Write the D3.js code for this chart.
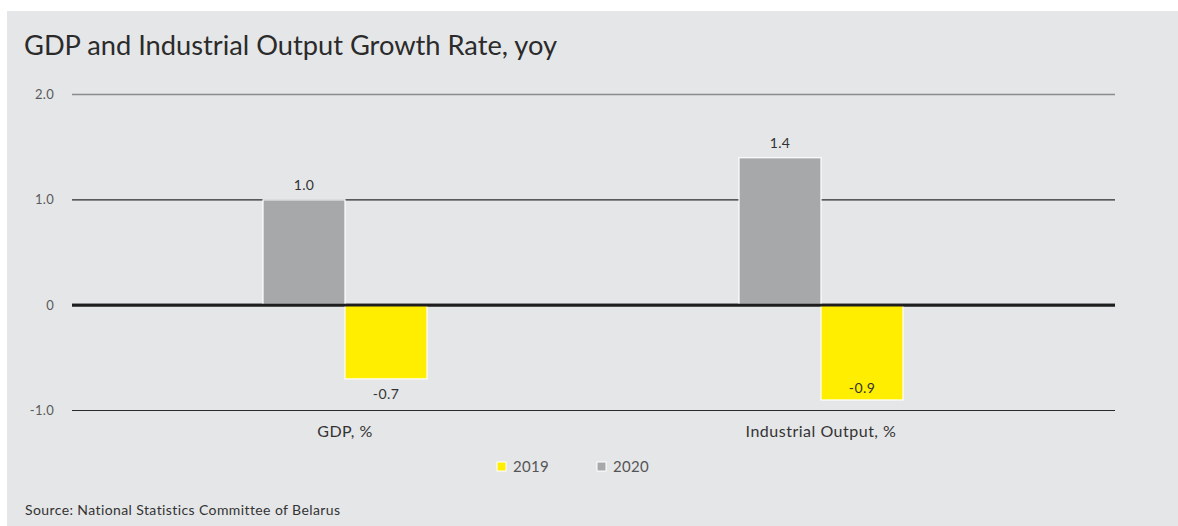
<!DOCTYPE html>
<html>
<head>
<meta charset="utf-8">
<script src="https://cdn.jsdelivr.net/npm/d3@7"></script>
<style>
  html, body { margin: 0; padding: 0; background: #ffffff; }
  svg { display: block; }
  text { font-family: "Lato", "Noto Sans", sans-serif; }
</style>
</head>
<body>
<svg id="chart" width="1178" height="526"></svg>
<script>
// Chart data
const categories = ["GDP, %", "Industrial Output, %"];
const seriesNames = ["2020", "2019"];
const values2020 = [1.0, 1.4];
const values2019 = [-0.7, -0.9];
const yTicks = [-1.0, 0, 1.0, 2.0];
const yTickLabels = ["-1.0", "0", "1.0", "2.0"];
const legendOrder = ["2019", "2020"];

const colors = { "2019": "#ffee00", "2020": "#a7a8aa" };
const seriesValues = { "2020": values2020, "2019": values2019 };

const svg = d3.select("#chart");
const W = 1178, H = 526;

// Panel background
svg.append("rect").attr("x", 7).attr("y", 11).attr("width", W - 7).attr("height", H - 11).attr("fill", "#e5e6e8");

// Title
svg.append("text").attr("x", 24).attr("y", 55)
  .attr("font-size", 26).attr("fill", "#2b2b2b")
  .attr("textLength", 533).attr("lengthAdjust", "spacingAndGlyphs")
  .text("GDP and Industrial Output Growth Rate, yoy");

const plotLeft = 72, plotRight = 1115;
const y = d3.scaleLinear().domain([-1, 2]).range([410.5, 94.5]);
const x0 = d3.scaleBand().domain(categories).range([107, 1059]).paddingInner(0).paddingOuter(0);
const x1 = d3.scaleBand().domain(seriesNames).range([x0.bandwidth() / 2 - 82, x0.bandwidth() / 2 + 82]);

// Grid lines
const grid = svg.append("g");
yTicks.forEach((t, i) => {
  let stroke = "#2a2a2a", sw = 1.2;
  if (t === 2) { stroke = "#8a8a8a"; sw = 1.6; }
  if (t === 0) { stroke = "#1e1e1e"; sw = 2.6; }
  grid.append("line")
    .attr("x1", plotLeft).attr("x2", plotRight)
    .attr("y1", y(t)).attr("y2", y(t))
    .attr("stroke", stroke).attr("stroke-width", sw);
  grid.append("text")
    .attr("x", 54).attr("y", y(t)).attr("dy", "0.35em")
    .attr("text-anchor", "end").attr("font-size", 13).attr("fill", "#5a5a5a")
    .attr("letter-spacing", 0.3)
    .text(yTickLabels[i]);
});

// Bars
const groups = svg.append("g").selectAll("g").data(categories).join("g")
  .attr("transform", d => `translate(${x0(d)},0)`);

seriesNames.forEach(s => {
  groups.append("rect")
    .attr("x", x1(s))
    .attr("width", x1.bandwidth())
    .attr("y", (d, i) => Math.min(y(seriesValues[s][i]), y(0)))
    .attr("height", (d, i) => Math.abs(y(seriesValues[s][i]) - y(0)))
    .attr("fill", colors[s])
    .attr("stroke", "#ffffff").attr("stroke-width", 1.2);
});

// Redraw zero line above bars
svg.append("line")
  .attr("x1", plotLeft).attr("x2", plotRight)
  .attr("y1", y(0)).attr("y2", y(0))
  .attr("stroke", "#1e1e1e").attr("stroke-width", 2.6);

// Value labels
seriesNames.forEach(s => {
  groups.append("text")
    .attr("x", x1(s) + x1.bandwidth() / 2)
    .attr("y", (d, i) => {
      const v = seriesValues[s][i];
      if (v >= 0) return y(v) - 10;
      // label sits inside the bar when it would collide with the category label
      return i === 1 ? y(v) - 7 : y(v) + 20;
    })
    .attr("text-anchor", "middle").attr("font-size", 14).attr("fill", "#333")
    .attr("letter-spacing", 0.4)
    .text((d, i) => seriesValues[s][i].toFixed(1));
});

// Category labels
svg.append("g").selectAll("text").data(categories).join("text")
  .attr("x", d => x0(d) + x0.bandwidth() / 2)
  .attr("y", 437)
  .attr("text-anchor", "middle").attr("font-size", 16).attr("fill", "#333")
  .attr("letter-spacing", 0.5)
  .text(d => d);

// Legend
const legendX = [497, 597];
const legend = svg.append("g").selectAll("g").data(legendOrder).join("g")
  .attr("transform", (d, i) => `translate(${legendX[i]},462)`);
legend.append("rect").attr("width", 9).attr("height", 9)
  .attr("fill", d => colors[d]).attr("stroke", "#ffffff").attr("stroke-width", 1);
legend.append("text").attr("x", 16).attr("y", 4.5).attr("dy", "0.36em")
  .attr("font-size", 15).attr("fill", "#555").attr("letter-spacing", 0.3).text(d => d);

// Source note
svg.append("text").attr("x", 25).attr("y", 515)
  .attr("font-size", 14).attr("fill", "#333").attr("letter-spacing", 0.4)
  .text("Source: National Statistics Committee of Belarus");
</script>
</body>
</html>
